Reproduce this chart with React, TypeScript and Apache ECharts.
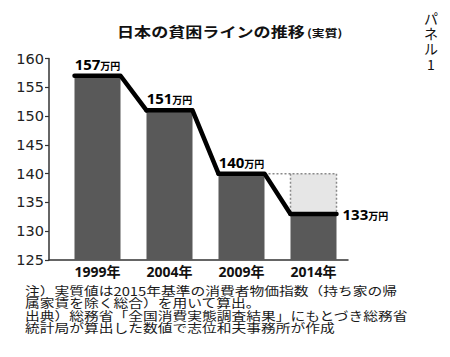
import React, { useEffect, useRef } from "react";
import * as echarts from "echarts";

const years = ["1999年", "2004年", "2009年", "2014年"];
const povertyLine = [157, 151, 140, 133];
const unitLabel = "万円";
const yMin = 125;
const yMax = 160;
const yStep = 5;
const titleMain = "日本の貧困ラインの推移";
const titleSub = "(実質)";
const panelLabel = "パネル1";
const footnoteLines = [
  "注）実質値は2015年基準の消費者物価指数（持ち家の帰",
  "属家賃を除く総合）を用いて算出。",
  "出典）総務省「全国消費実態調査結果」にもとづき総務省",
  "統計局が算出した数値で志位和夫事務所が作成",
];

const BAR_W = 46;
const HALF = BAR_W / 2;
const CJK = '"Noto Sans CJK JP", sans-serif';

export default function App() {
  const ref = useRef<HTMLDivElement>(null);
  useEffect(() => {
    if (!ref.current) return;
    const chart = echarts.init(ref.current, null, { renderer: "svg" });
    const last = povertyLine.length - 1;
    const gridTop = 58.5;
    const gridH = 201.5;
    const option: any = {
      animation: false,
      backgroundColor: "#ffffff",
      grid: [
        { left: 49, top: gridTop, width: 299, height: gridH },
        { left: 61.5, top: gridTop, width: 288, height: gridH },
      ],
      xAxis: [
        {
          gridIndex: 0,
          type: "value",
          min: 0,
          max: 1,
          axisLine: { show: true, onZero: false, lineStyle: { color: "#333", width: 1.5 } },
          axisTick: { show: false },
          axisLabel: { show: false },
          splitLine: { show: false },
        },
        {
          gridIndex: 1,
          type: "category",
          data: years,
          axisLine: { show: false },
          axisTick: { show: false },
          splitLine: { show: false },
          axisLabel: {
            margin: 4,
            color: "#111",
            fontSize: 14,
            fontWeight: "bold",
            fontFamily: '"Noto Sans", "Noto Sans CJK JP", sans-serif',
          },
        },
      ],
      yAxis: [
        {
          gridIndex: 0,
          type: "value",
          min: yMin,
          max: yMax,
          interval: yStep,
          axisLine: { show: true, lineStyle: { color: "#333", width: 1.5 } },
          axisTick: { show: true, inside: false, length: 4, lineStyle: { color: "#333", width: 1.2 } },
          axisLabel: {
            margin: 5,
            color: "#222",
            fontSize: 14.5,
            fontFamily: '"DejaVu Sans", sans-serif',
          },
          splitLine: { show: false },
        },
        { gridIndex: 1, type: "value", min: yMin, max: yMax, show: false },
      ],
      series: [
        {
          type: "bar",
          xAxisIndex: 1,
          yAxisIndex: 1,
          barWidth: BAR_W,
          z: 2,
          itemStyle: { color: "#595959" },
          label: {
            show: true,
            position: "top",
            distance: 4,
            formatter: (p: any) => `{v|${p.value}}{u|${unitLabel}}`,
            rich: {
              v: {
                fontFamily: '"Noto Sans", sans-serif',
                fontWeight: "bold",
                fontSize: 15,
                color: "#000",
                lineHeight: 16,
              },
              u: {
                fontFamily: CJK,
                fontWeight: "bold",
                fontSize: 10,
                color: "#000",
                lineHeight: 16,
                padding: [3, 0, 0, 0],
              },
            },
          },
          data: povertyLine.map((v, i) =>
            i === last
              ? {
                  value: v,
                  label: {
                    position: ["100%", 0],
                    offset: [6, 0],
                    align: "left",
                    verticalAlign: "middle",
                  },
                }
              : v
          ),
        },
        {
          type: "custom",
          xAxisIndex: 1,
          yAxisIndex: 1,
          z: 3,
          silent: true,
          data: [[last, povertyLine[last - 1], povertyLine[last]]],
          renderItem: (params: any, api: any) => {
            const i = api.value(0);
            const top = api.coord([i, api.value(1)]);
            const bot = api.coord([i, api.value(2)]);
            const prev = api.coord([i - 1, api.value(1)]);
            const dash = { stroke: "#8a8a8a", lineWidth: 1.5, lineDash: [2, 2], fill: "none" };
            return {
              type: "group",
              children: [
                {
                  type: "rect",
                  shape: { x: top[0] - HALF, y: top[1], width: BAR_W, height: bot[1] - top[1] },
                  style: { fill: "#e6e6e6" },
                },
                {
                  type: "line",
                  shape: { x1: prev[0] + HALF, y1: top[1], x2: top[0] + HALF, y2: top[1] },
                  style: dash,
                },
                {
                  type: "line",
                  shape: { x1: top[0] - HALF, y1: top[1], x2: top[0] - HALF, y2: bot[1] },
                  style: dash,
                },
                {
                  type: "line",
                  shape: { x1: top[0] + HALF, y1: top[1], x2: top[0] + HALF, y2: bot[1] },
                  style: dash,
                },
              ],
            };
          },
        },
        {
          type: "custom",
          xAxisIndex: 1,
          yAxisIndex: 1,
          z: 4,
          silent: true,
          data: povertyLine.map((v, i) => [i, v]),
          renderItem: (params: any, api: any) => {
            const i = api.value(0);
            const p = api.coord([i, api.value(1)]);
            const pts: number[][] = [
              [p[0] - HALF, p[1]],
              [p[0] + HALF, p[1]],
            ];
            if (i < povertyLine.length - 1) {
              const q = api.coord([i + 1, povertyLine[i + 1]]);
              pts.push([q[0] - HALF, q[1]]);
            }
            return {
              type: "polyline",
              shape: { points: pts },
              style: {
                stroke: "#000",
                lineWidth: 4.5,
                fill: "none",
                lineJoin: "round",
                lineCap: "round",
              },
            };
          },
        },
      ],
      graphic: [
        {
          type: "text",
          x: 117,
          y: 31,
          scaleX: 1.22,
          style: {
            text: titleMain,
            fontFamily: CJK,
            fontWeight: "bold",
            fontSize: 14,
            fill: "#111",
            textAlign: "left",
            textVerticalAlign: "middle",
          },
        },
        {
          type: "text",
          x: 307,
          y: 32.5,
          scaleX: 1.22,
          style: {
            text: titleSub,
            fontFamily: CJK,
            fontWeight: "bold",
            fontSize: 10.5,
            fill: "#111",
            textAlign: "left",
            textVerticalAlign: "middle",
          },
        },
        {
          type: "text",
          x: 431,
          y: 10,
          style: {
            text: panelLabel.split("").join("\n"),
            fontFamily: CJK,
            fontSize: 14,
            lineHeight: 15.3,
            fill: "#111",
            textAlign: "center",
            textVerticalAlign: "top",
          },
        },
        {
          type: "text",
          x: 25,
          y: 284,
          scaleX: 1.23,
          style: {
            text: footnoteLines.join("\n"),
            fontFamily: CJK,
            fontSize: 12,
            lineHeight: 12.6,
            fill: "#1a1a1a",
            textAlign: "left",
            textVerticalAlign: "top",
          },
        },
      ],
    };
    chart.setOption(option);
    return () => chart.dispose();
  }, []);
  return (
    <div
      ref={ref}
      style={{ position: "absolute", left: 0, top: 0, width: 450, height: 357, background: "#fff" }}
    />
  );
}
